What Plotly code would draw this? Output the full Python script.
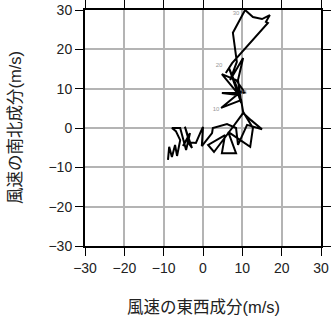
import plotly.graph_objects as go

# Hodograph: east-west (u) and north-south (v) wind components (m/s)
u = [-8.9, -8.6, -7.9, -7.1, -6.6, -5.8, -6.9, -7.9, -5.8, -4.3, -3.3, -5.1, -3.8, -4.6,
     -2.8, -3.8, -1.8, -0.5, 0.0, -0.3, 2.3, 2.5, 6.1, 8.4, 8.9, 11.2, 15.0, 12.2, 10.2,
     7.4, 2.8, 1.3, 5.6, 4.8, 8.4, 6.4, 12.0, 12.7, 10.2, 9.7, 4.6, 10.2, 8.9, 4.8, 10.7,
     8.4, 4.8, 9.4, 8.4, 6.6, 9.7, 8.9, 10.2, 6.9, 8.6, 7.6, 10.7, 12.7, 15.0, 17.0, 16.0,
     16.5, 7.4, 5.8]
v = [-8.1, -4.8, -7.4, -4.3, -7.1, -3.1, -0.8, 0.0, 0.0, -5.6, -1.3, -4.6, -2.5, 0.3,
     -5.1, -3.6, -3.8, -0.8, 0.3, -4.6, -1.3, 0.0, 1.0, 0.0, -4.3, 0.8, -0.3, 2.0, 3.8,
     0.0, -6.1, -4.3, -1.8, -6.4, -6.4, -1.0, -4.8, 0.0, 4.1, 7.1, 5.1, 9.7, 8.4, 8.9, 8.9,
     12.2, 13.7, 8.1, 10.9, 15.3, 6.4, 12.2, 17.8, 12.2, 16.8, 24.2, 30.0, 28.2, 27.7, 28.7,
     27.0, 26.7, 16.5, 14.0]

label_text = ["10", "15", "20", "30"]
label_u = [3.3, 10.3, 4.1, 8.4]
label_v = [4.8, 8.9, 15.8, 29.2]

ticks = [-30, -20, -10, 0, 10, 20, 30]
tick_text = ["\u221230", "\u221220", "\u221210", "0", "10", "20", "30"]

font_family = "Liberation Sans, Noto Sans CJK JP, sans-serif"
text_color = "#222222"

fig = go.Figure()
fig.add_trace(go.Scatter(x=u, y=v, mode="lines",
                         line=dict(color="black", width=2),
                         hoverinfo="skip", showlegend=False))
fig.add_trace(go.Scatter(x=label_u, y=label_v, mode="text", text=label_text,
                         textfont=dict(size=6, color="#999999", family=font_family),
                         showlegend=False, hoverinfo="skip"))

axis_common = dict(
    range=[-30, 30], tickvals=ticks, ticktext=tick_text,
    showgrid=True, gridcolor="#b4b4b4", gridwidth=1.5,
    zeroline=False, automargin=False,
    showline=True, linecolor="black", linewidth=2, mirror="ticks",
    ticks="outside", ticklen=8, tickcolor="black", tickwidth=1,
    tickfont=dict(size=14, color=text_color, family=font_family),
)

fig.update_layout(
    width=331, height=318,
    margin=dict(l=85, r=10, t=10, b=72),
    paper_bgcolor="white", plot_bgcolor="white",
    xaxis=dict(**axis_common),
    yaxis=dict(**axis_common),
    annotations=[
        dict(text="風速の東西成分(m/s)", xref="paper", yref="paper", x=0.5, y=0,
             xanchor="center", yanchor="middle", yshift=-61, showarrow=False,
             font=dict(size=16.5, color=text_color, family=font_family)),
        dict(text="風速の南北成分(m/s)", xref="paper", yref="paper", x=0, y=0.5,
             xanchor="center", yanchor="middle", xshift=-70, textangle=-90, showarrow=False,
             font=dict(size=16.5, color=text_color, family=font_family)),
    ],
)

fig.write_html("out.html")
